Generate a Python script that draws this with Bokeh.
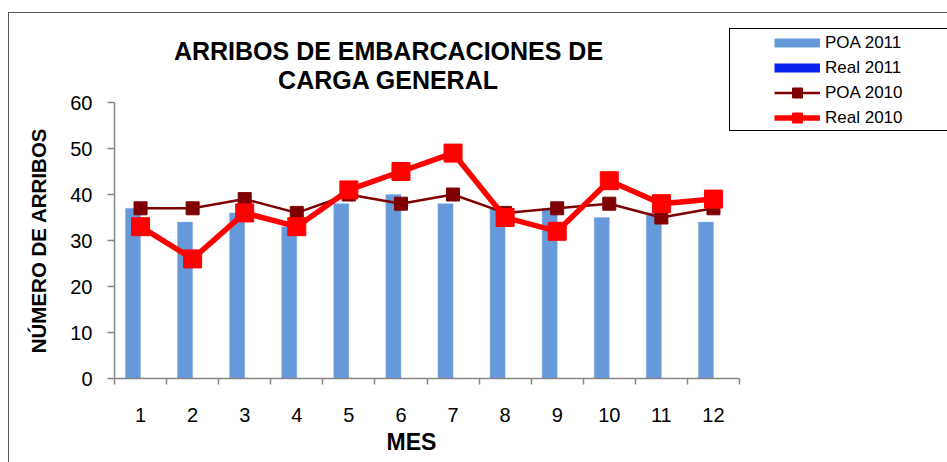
from bokeh.plotting import figure
from bokeh.models import (ColumnDataSource, FixedTicker, Legend, LegendItem, Label,
                          Range1d, InlineStyleSheet, LinearAxis)
from bokeh.transform import dodge
from bokeh.embed import file_html
from bokeh.resources import INLINE

# ---- data ----
months = [1, 2, 3, 4, 5, 6, 7, 8, 9, 10, 11, 12]
month_labels = ["1", "2", "3", "4", "5", "6", "7", "8", "9", "10", "11", "12"]
poa_2011 = [37, 34, 36, 33, 38, 40, 38, 37, 37, 35, 36, 34]
real_2011 = []  # no values reported
poa_2010 = [37, 37, 39, 36, 40, 38, 40, 36, 37, 38, 35, 37]
real_2010 = [33, 26, 36, 33, 41, 45, 49, 35, 32, 43, 38, 39]
y_ticks = [0, 10, 20, 30, 40, 50, 60]
title_lines = ["ARRIBOS DE EMBARCACIONES DE", "CARGA GENERAL"]
x_title = "MES"
y_title = "NÚMERO DE ARRIBOS"

FONT = "Liberation Sans"
BAR_COLOR = "#6699DA"
REAL11_COLOR = "#0A22EE"
POA10_COLOR = "#7F0000"
REAL10_COLOR = "#FF0000"
AXIS_COLOR = "#868686"

# layout (px): plot area from x=114 to 739, y=102 (value 60) to 378 (value 0)
W, H = 939, 460
LEFT, BOTTOM_Y = 114, 378
PX_PER_X = (739 - 114) / 12.0
PX_PER_Y = (378 - 102) / 60.0

src = ColumnDataSource(dict(month=months, poa_2011=poa_2011, poa_2010=poa_2010, real_2010=real_2010))
src_r11 = ColumnDataSource(dict(month=months[:len(real_2011)], real_2011=real_2011))

css = InlineStyleSheet(css="""
:host::before { content: ""; position: absolute; left: 8px; top: 12px; width: 2000px; height: 2000px;
  border: 1.5px solid #595959; pointer-events: none; z-index: 5; box-sizing: border-box; }
:host::after { content: ""; position: absolute; left: 729px; top: 28px; width: 400px; height: 103px;
  border: 1.5px solid #000000; pointer-events: none; z-index: 5; box-sizing: border-box; }
""")

x_end = 0.5 + (W - LEFT) / PX_PER_X
y_end = BOTTOM_Y / PX_PER_Y

p = figure(width=W, height=H, output_backend="svg", toolbar_location=None,
           x_range=Range1d(0.5, x_end), y_range=Range1d(0, y_end),
           title_location=None,
           min_border_left=LEFT, min_border_right=0, min_border_top=0,
           min_border_bottom=H - BOTTOM_Y)
p.stylesheets = [css]
p.outline_line_color = None
p.xgrid.visible = False
p.ygrid.visible = False
p.background_fill_color = "white"
p.border_fill_color = "white"

# bars (POA 2011 left slot, Real 2011 right slot)
p.vbar(x=dodge("month", -0.145, range=p.x_range), top="poa_2011", width=0.29, source=src,
       fill_color=BAR_COLOR, line_color="#8DB3E2", line_width=0.5)
p.vbar(x=dodge("month", 0.145, range=p.x_range), top="real_2011", width=0.29, source=src_r11,
       fill_color=REAL11_COLOR, line_color=None)

# lines
l_poa = p.line("month", "poa_2010", source=src, line_color=POA10_COLOR, line_width=2.5)
s_poa = p.scatter("month", "poa_2010", source=src, marker="square", size=13,
                  fill_color=POA10_COLOR, line_color=POA10_COLOR)
l_real = p.line("month", "real_2010", source=src, line_color=REAL10_COLOR, line_width=5.5)
s_real = p.scatter("month", "real_2010", source=src, marker="square", size=18,
                   fill_color=REAL10_COLOR, line_color=REAL10_COLOR)

# axes
xa = p.xaxis[0]
xa.bounds = (0.5, 12.5)
xa.ticker = FixedTicker(ticks=months, minor_ticks=[m - 0.5 for m in months] + [12.5])
xa.major_label_overrides = {m: lab for m, lab in zip(months, month_labels)}
xa.major_tick_line_color = None
xa.major_tick_out = 6
xa.major_tick_in = 0
xa.minor_tick_out = 6
xa.minor_tick_in = 0
xa.minor_tick_line_color = AXIS_COLOR
xa.axis_line_color = AXIS_COLOR
xa.axis_line_width = 1.5
xa.minor_tick_line_width = 1.5
xa.major_label_text_font = FONT
xa.major_label_text_font_size = "20px"
xa.major_label_text_color = "black"
xa.major_label_standoff = 23

ya = p.yaxis[0]
ya.bounds = (0, 60)
ya.ticker = FixedTicker(ticks=y_ticks, minor_ticks=[])
ya.major_tick_out = 7
ya.major_tick_in = 0
ya.major_tick_line_color = AXIS_COLOR
ya.major_tick_line_width = 1.5
ya.axis_line_color = AXIS_COLOR
ya.axis_line_width = 1.5
ya.major_label_text_font = FONT
ya.major_label_text_font_size = "20px"
ya.major_label_text_color = "black"
ya.major_label_standoff = 15

# axis titles, placed as single-tick axes so they sit under the plotted months / beside values
mes_pos = 0.5 + (411 - LEFT) / PX_PER_X
ax_x_title = LinearAxis(ticker=FixedTicker(ticks=[mes_pos], minor_ticks=[]),
                        major_label_overrides={mes_pos: x_title},
                        axis_line_color=None, major_tick_line_color=None,
                        minor_tick_line_color=None, major_tick_out=0, major_tick_in=0,
                        major_label_standoff=4, major_label_text_font=FONT,
                        major_label_text_font_size="23px", major_label_text_font_style="bold",
                        major_label_text_color="black")
p.add_layout(ax_x_title, "below")

ylab_pos = (BOTTOM_Y - 240) / PX_PER_Y
ax_y_title = LinearAxis(ticker=FixedTicker(ticks=[ylab_pos], minor_ticks=[]),
                        major_label_overrides={ylab_pos: y_title},
                        major_label_orientation="parallel",
                        axis_line_color=None, major_tick_line_color=None,
                        minor_tick_line_color=None, major_tick_out=0, major_tick_in=0,
                        major_label_standoff=18, major_label_text_font=FONT,
                        major_label_text_font_size="20.5px", major_label_text_font_style="bold",
                        major_label_text_color="black")
p.add_layout(ax_y_title, "left")

# two-line title, centred
for txt, yy in zip(title_lines, [50, 79]):
    p.add_layout(Label(x=388, y=yy, x_units="canvas", y_units="canvas", text=txt,
                       text_align="center", text_baseline="middle", text_font=FONT,
                       text_font_size="25px", text_font_style="bold", text_color="black"))

# legend
nan = float("nan")
leg_poa11 = p.line(x=[nan], y=[nan], line_color=BAR_COLOR, line_width=9, line_cap="butt")
leg_real11 = p.line(x=[nan], y=[nan], line_color=REAL11_COLOR, line_width=9, line_cap="butt")
legend = Legend(items=[
    LegendItem(label="POA 2011", renderers=[leg_poa11]),
    LegendItem(label="Real 2011", renderers=[leg_real11]),
    LegendItem(label="POA 2010", renderers=[l_poa, s_poa]),
    LegendItem(label="Real 2010", renderers=[l_real, s_real]),
], location=(774 - LEFT, BOTTOM_Y - 130), orientation="vertical", border_line_color=None,
    background_fill_alpha=0, padding=0, margin=0, spacing=0,
    glyph_width=46, glyph_height=25, label_standoff=5, label_height=25,
    label_text_font=FONT, label_text_font_size="17px", label_text_color="black")
p.add_layout(legend, "center")

open("out.html", "w").write(file_html(p, INLINE))
